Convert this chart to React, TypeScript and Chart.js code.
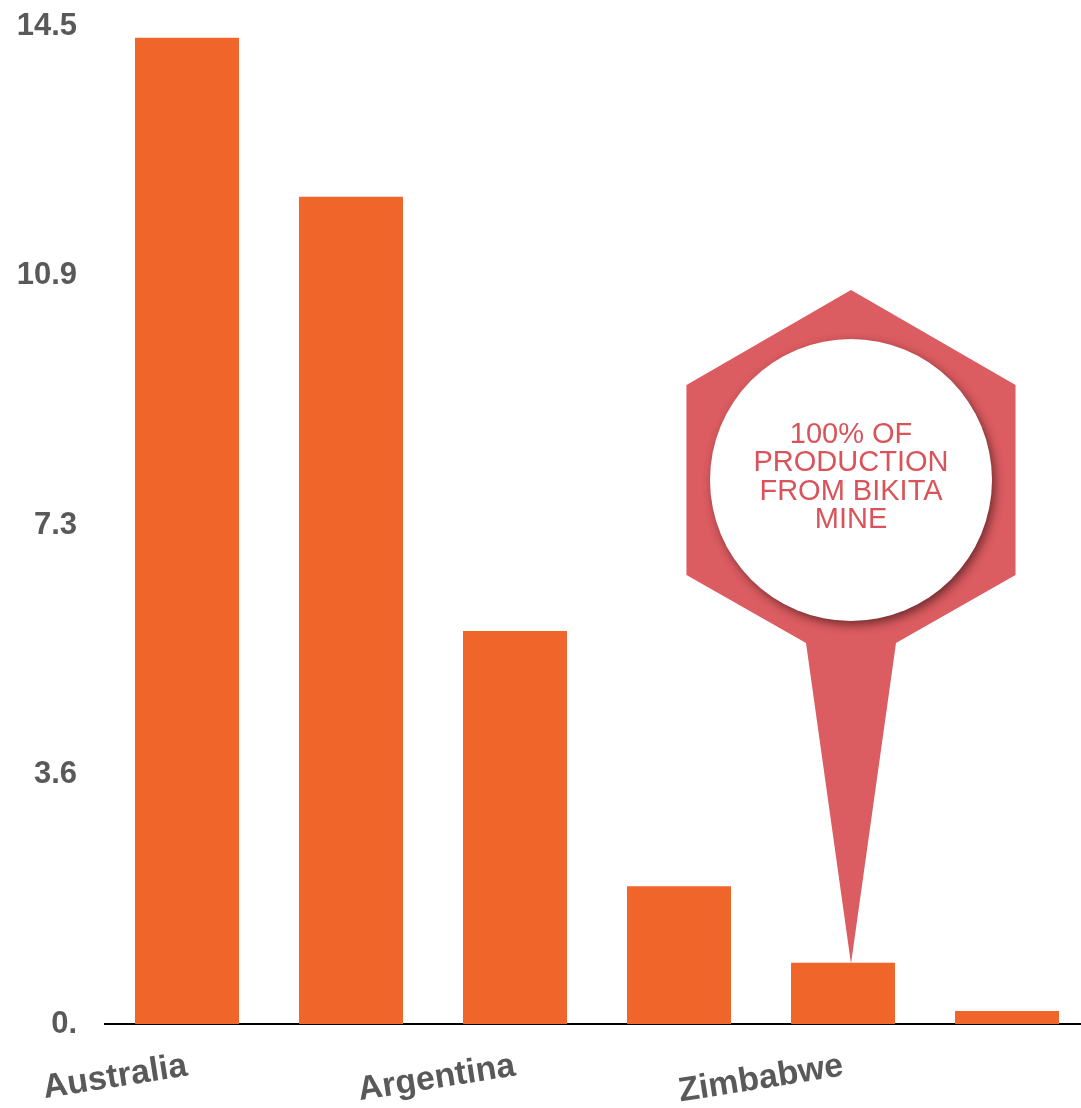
import React, { useEffect, useRef } from "react";
import { Chart, registerables } from "chart.js";

Chart.register(...registerables);

const categories = ["Australia", "Chile", "Argentina", "China", "Zimbabwe", "Portugal"];
const production = [14.33, 12.02, 5.71, 2.0, 0.89, 0.19];
const yTickValues = [0, 3.625, 7.25, 10.875, 14.5];
const yTickLabels = ["0.", "3.6", "7.3", "10.9", "14.5"];
const calloutLines = ["100% OF", "PRODUCTION", "FROM BIKITA", "MINE"];
const calloutIndex = 4;

const FONT = "'Liberation Sans', Arial, Helvetica, sans-serif";

const calloutPlugin = {
  id: "callout",
  afterDatasetsDraw(chart: any) {
    const meta = chart.getDatasetMeta(0);
    const el = meta.data[calloutIndex];
    if (!el) return;
    const ctx = chart.ctx;
    const tipX = el.x + 8;
    const tipY = el.y + 1;
    const cx = tipX;
    const cy = 480;
    const R = 190;
    const hw = R * Math.cos(Math.PI / 6);
    ctx.save();
    ctx.fillStyle = "#DB5C61";
    ctx.beginPath();
    ctx.moveTo(cx, cy - R);
    ctx.lineTo(cx + hw, cy - R / 2);
    ctx.lineTo(cx + hw, cy + R / 2);
    ctx.lineTo(cx + 45, cy + 163);
    ctx.lineTo(tipX, tipY);
    ctx.lineTo(cx - 45, cy + 163);
    ctx.lineTo(cx - hw, cy + R / 2);
    ctx.lineTo(cx - hw, cy - R / 2);
    ctx.closePath();
    ctx.fill();

    ctx.shadowColor = "rgba(60,20,20,0.65)";
    ctx.shadowBlur = 10;
    ctx.shadowOffsetX = 3;
    ctx.shadowOffsetY = 4;
    ctx.fillStyle = "#ffffff";
    ctx.beginPath();
    ctx.arc(cx, cy, 141, 0, Math.PI * 2);
    ctx.fill();
    ctx.shadowColor = "transparent";
    ctx.shadowBlur = 0;
    ctx.shadowOffsetX = 0;
    ctx.shadowOffsetY = 0;

    ctx.fillStyle = "#D9545A";
    ctx.font = `29px ${FONT}`;
    ctx.textAlign = "center";
    ctx.textBaseline = "middle";
    const lh = 28.3;
    const startY = cy - 45;
    calloutLines.forEach((line, i) => {
      ctx.fillText(line, cx, startY + i * lh);
    });
    ctx.restore();
  },
};

export default function App() {
  const ref = useRef<HTMLCanvasElement | null>(null);
  useEffect(() => {
    if (!ref.current) return;
    const chart = new Chart(ref.current, {
      type: "bar",
      data: {
        labels: categories,
        datasets: [
          {
            data: production,
            backgroundColor: "#F0652A",
            borderWidth: 0,
            categoryPercentage: 1,
            barPercentage: 0.634,
          },
        ],
      },
      options: {
        animation: false,
        responsive: false,
        maintainAspectRatio: false,
        layout: { padding: { top: 26, right: 0, bottom: 0, left: 0 } },
        plugins: { legend: { display: false }, tooltip: { enabled: false } },
        scales: {
          x: {
            grid: { display: false, drawTicks: false },
            border: { display: true, color: "#000000", width: 2 },
            ticks: {
              autoSkip: false,
              minRotation: 9,
              maxRotation: 9,
              padding: 22,
              color: "#595959",
              font: { family: FONT, size: 34, weight: "bold" },
              callback: (_v: any, i: number) => (i % 2 === 0 ? categories[i] : ""),
            },
            afterFit: (s: any) => {
              s.height = 84;
              s.paddingLeft = 0;
              s.paddingRight = 0;
              s.paddingTop = 0;
            },
          },
          y: {
            min: 0,
            max: 14.5,
            grid: { display: false, drawTicks: false },
            border: { display: false },
            afterBuildTicks: (s: any) => {
              s.ticks = yTickValues.map((v) => ({ value: v }));
            },
            ticks: {
              padding: 28,
              color: "#595959",
              font: { family: FONT, size: 31, weight: "bold" },
              callback: (v: any) => {
                const i = yTickValues.indexOf(Number(v));
                return i >= 0 ? yTickLabels[i] : "";
              },
            },
            afterFit: (s: any) => {
              s.width = 105;
              s.paddingTop = 0;
              s.paddingBottom = 0;
            },
          },
        },
      },
      plugins: [calloutPlugin],
    });
    return () => chart.destroy();
  }, []);
  return (
    <div
      style={{
        position: "fixed",
        left: 0,
        top: 0,
        width: 1081,
        height: 1108,
        overflow: "hidden",
        background: "#ffffff",
      }}
    >
      <canvas ref={ref} width={1089} height={1108} style={{ width: 1089, height: 1108, display: "block" }} />
    </div>
  );
}
